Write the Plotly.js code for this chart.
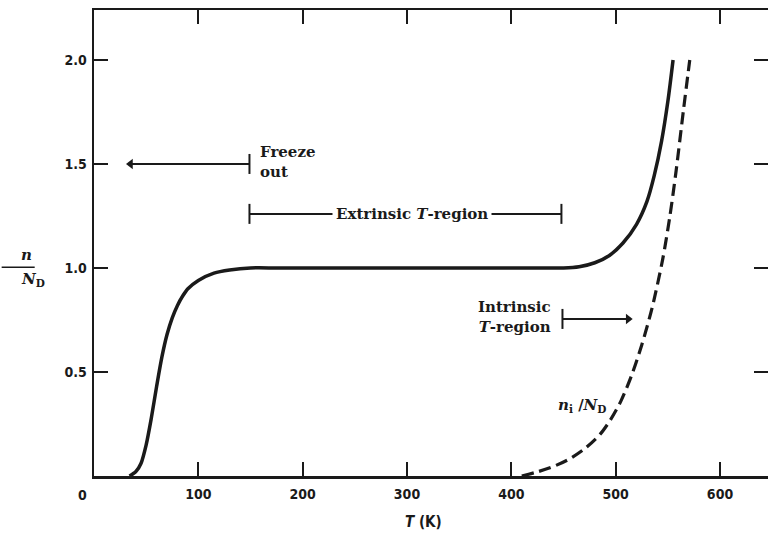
<!DOCTYPE html>
<html>
<head>
<meta charset="utf-8">
<script src="https://cdn.plot.ly/plotly-3.0.1.min.js"></script>
<style>html,body{margin:0;padding:0;background:#fff;}#chart{width:768px;height:539px;}</style>
</head>
<body>
<div id="chart"></div>
<script>
// Solid curve: n / N_D versus T (K)
const T_n = [34, 40, 45, 50, 55, 60, 65, 70, 75, 80, 85, 90, 100, 115, 130, 150, 175, 200, 250, 300, 350, 400, 430, 450, 465, 480, 494, 507, 520, 530, 537, 544, 550, 555];
const n_ND = [0, 0.02, 0.06, 0.15, 0.28, 0.43, 0.57, 0.68, 0.76, 0.82, 0.865, 0.9, 0.94, 0.975, 0.99, 1.0, 1.0, 1.0, 1.0, 1.0, 1.0, 1.0, 1.0, 1.0, 1.006, 1.025, 1.06, 1.12, 1.21, 1.32, 1.445, 1.61, 1.8, 2.0];
// Dashed curve: n_i / N_D versus T (K)
const T_i = [410, 425, 440, 455, 470, 485, 495, 505, 515, 525, 535, 545, 552, 558, 565, 571];
const ni_ND = [0.0, 0.02, 0.045, 0.08, 0.13, 0.2, 0.27, 0.36, 0.48, 0.63, 0.81, 1.04, 1.25, 1.47, 1.76, 2.0];
// Axis ticks
const xTicks = [100, 200, 300, 400, 500, 600];
const xTickText = ['100', '200', '300', '400', '500', '600'];
const yTicks = [0.5, 1.0, 1.5, 2.0];
const yTickText = ['0.5', '1.0', '1.5', '2.0'];
// Region markers (T range and level)
const freezeT = [149, 31];      const freezeLevel = 1.5;
const extrinsicT = [149, 448];  const extrinsicLevel = 1.26;
const intrinsicT = [449, 516];  const intrinsicLevel = 0.755;

const ink = '#1a1a1a';
const serif = 'DejaVu Serif, Liberation Serif, serif';
const sans = 'DejaVu Sans Condensed, DejaVu Sans, sans-serif';

const traces = [
  {x: T_n, y: n_ND, mode: 'lines', line: {color: ink, width: 3.5, shape: 'spline', smoothing: 0.8}, hoverinfo: 'skip'},
  {x: T_i, y: ni_ND, mode: 'lines', line: {color: ink, width: 3.2, dash: '12px,6px', shape: 'spline', smoothing: 0.8}, hoverinfo: 'skip'},
  // arrowheads of the region arrows
  {x: [freezeT[1] + 4, intrinsicT[1] - 4], y: [freezeLevel, intrinsicLevel], mode: 'markers',
   marker: {symbol: ['triangle-left', 'triangle-right'], size: 9, color: ink, line: {width: 0}}, hoverinfo: 'skip'}
];

function vbar(t, level) {
  return {type: 'line', xref: 'x', yref: 'y', x0: t, x1: t, ysizemode: 'pixel', yanchor: level, y0: -10, y1: 10, line: {color: ink, width: 2}};
}
function hline(t0, t1, level) {
  return {type: 'line', xref: 'x', yref: 'y', x0: t0, x1: t1, y0: level, y1: level, line: {color: ink, width: 2}};
}

const shapes = [
  hline(freezeT[0], freezeT[1] + 4, freezeLevel),
  vbar(freezeT[0], freezeLevel),
  hline(extrinsicT[0], extrinsicT[1], extrinsicLevel),
  vbar(extrinsicT[0], extrinsicLevel),
  vbar(extrinsicT[1], extrinsicLevel),
  hline(intrinsicT[0], intrinsicT[1] - 4, intrinsicLevel),
  vbar(intrinsicT[0], intrinsicLevel),
  // fraction bar of y-axis title
  {type: 'line', xref: 'paper', yref: 'paper', x0: -0.137, x1: -0.088, y0: 0.448, y1: 0.448, line: {color: ink, width: 1.5}}
];

const annotations = [
  {x: freezeT[0], y: freezeLevel, xref: 'x', yref: 'y', xanchor: 'left', yanchor: 'middle', xshift: 9, yshift: 2, align: 'left', showarrow: false,
   text: '<b>Freeze</b><br><b>out</b>', font: {family: serif, size: 15, color: ink}},
  {x: (extrinsicT[0] + extrinsicT[1]) / 2 + 6, y: extrinsicLevel, xref: 'x', yref: 'y', showarrow: false, bgcolor: '#ffffff', borderpad: 3,
   text: '<b>Extrinsic <i>T</i>-region</b>', font: {family: serif, size: 15, color: ink}},
  {x: intrinsicT[0], y: intrinsicLevel, xref: 'x', yref: 'y', xanchor: 'right', yanchor: 'middle', xshift: -9, yshift: 2, align: 'right', showarrow: false,
   text: '<b>Intrinsic</b><br><b><i>T</i>-region</b>', font: {family: serif, size: 15, color: ink}},
  {x: 468, y: 0.34, xref: 'x', yref: 'y', showarrow: false,
   text: '<b><i>n</i><sub>i</sub> /<i>N</i><sub>D</sub></b>', font: {family: serif, size: 15, color: ink}},
  // origin label
  {x: 0, y: 0, xref: 'x', yref: 'y', xanchor: 'center', yanchor: 'top', xshift: -12, yshift: -9, showarrow: false,
   text: '<b>0</b>', font: {family: sans, size: 14, color: ink}},
  // x-axis title
  {x: 316, y: 0, xref: 'x', yref: 'paper', yanchor: 'top', yshift: -35, showarrow: false,
   text: '<b><i>T</i> (K)</b>', font: {family: sans, size: 15, color: ink}},
  // y-axis title (fraction)
  {x: -0.112, y: 0.448, xref: 'paper', yref: 'paper', yanchor: 'bottom', yshift: 1, showarrow: false,
   text: '<b><i>n</i></b>', font: {family: serif, size: 15, color: ink}},
  {x: -0.112, y: 0.448, xref: 'paper', yref: 'paper', yanchor: 'top', yshift: -1, showarrow: false,
   text: '<b><i>N</i><sub>D</sub></b>', font: {family: serif, size: 15, color: ink}}
];

const layout = {
  width: 768, height: 539,
  margin: {l: 94, r: 0, t: 10, b: 63},
  paper_bgcolor: '#ffffff', plot_bgcolor: '#ffffff',
  showlegend: false,
  xaxis: {range: [0, 646], tickvals: xTicks, ticktext: xTickText, ticks: 'inside', ticklen: 14, tickwidth: 2, tickcolor: ink,
          showline: true, linewidth: 2.5, linecolor: ink, mirror: 'ticks', showgrid: false, zeroline: false,
          tickfont: {family: sans, size: 14, color: ink, weight: 'bold'}, ticklabelstandoff: 4},
  yaxis: {range: [0, 2.24], tickvals: yTicks, ticktext: yTickText, ticks: 'inside', ticklen: 14, tickwidth: 2, tickcolor: ink,
          showline: true, linewidth: 2.5, linecolor: ink, mirror: 'ticks', showgrid: false, zeroline: false,
          tickfont: {family: sans, size: 14, color: ink, weight: 'bold'}, ticklabelstandoff: 2},
  shapes: shapes,
  annotations: annotations
};

Plotly.newPlot('chart', traces, layout, {displayModeBar: false, staticPlot: true});
</script>
</body>
</html>
